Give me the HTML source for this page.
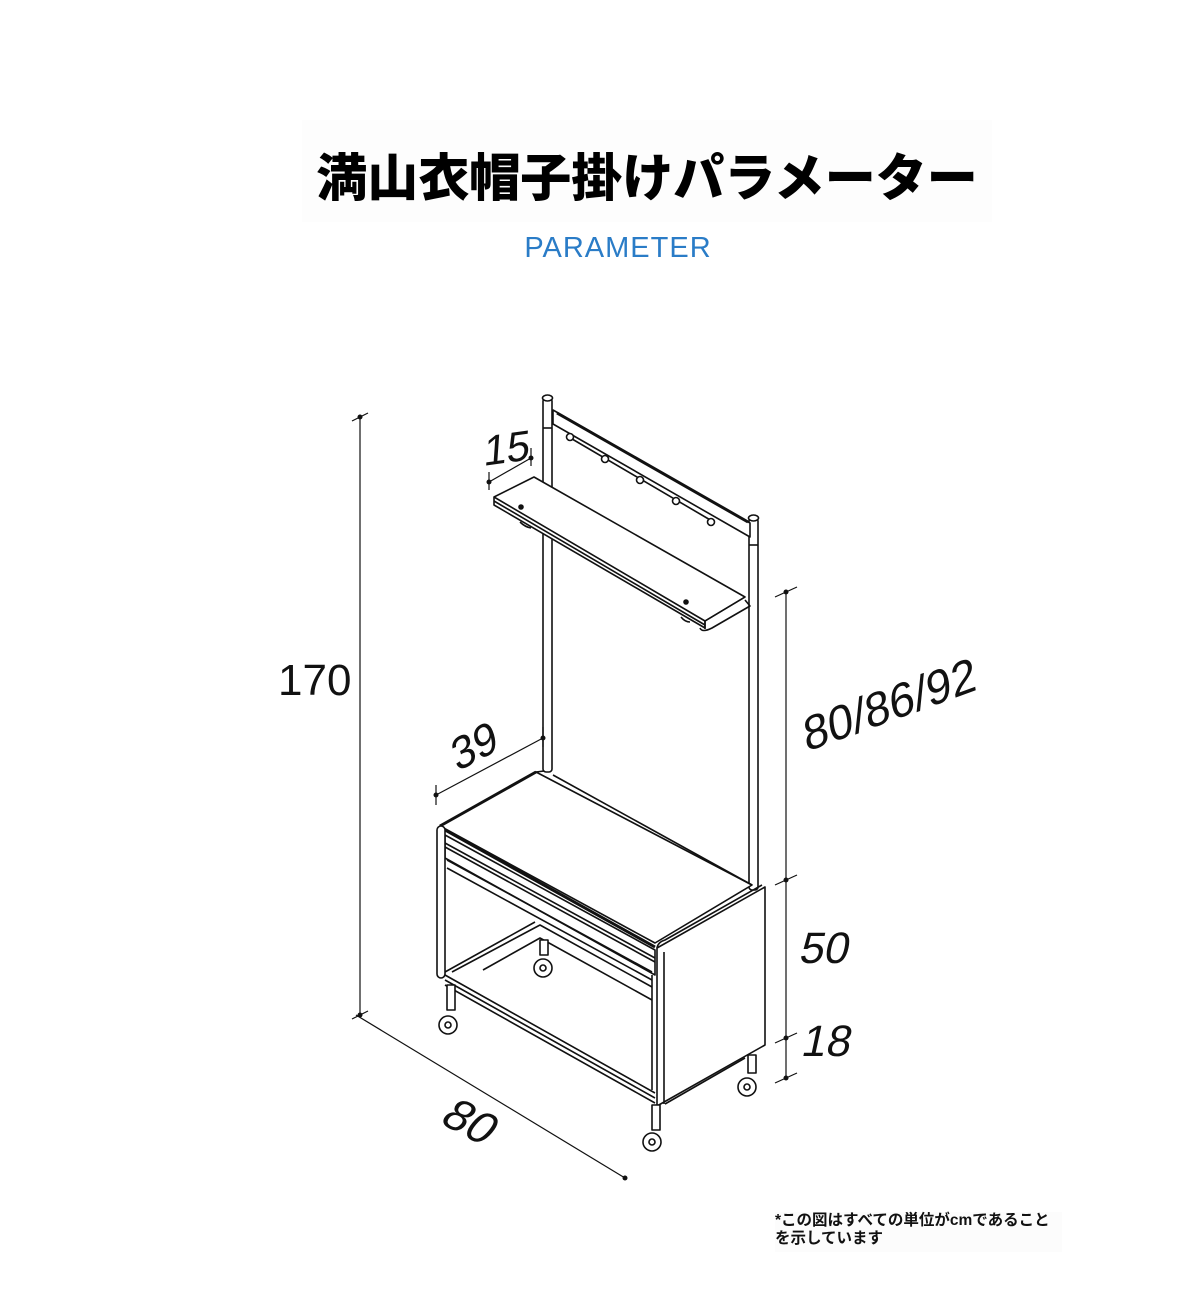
<!DOCTYPE html>
<html><head><meta charset="utf-8"><style>
body{margin:0;background:#fff;}
.wrap{position:relative;width:1200px;height:1289px;overflow:hidden;font-family:"Liberation Sans","Noto Sans CJK JP",sans-serif;}
.title{position:absolute;left:302px;top:120px;width:690px;height:102px;background:#fdfdfd;font-weight:900;font-size:51px;line-height:118px;text-align:center;color:#000;}
.sub{position:absolute;left:0;width:1236px;top:232px;text-align:center;color:#2a7cc7;font-size:29px;letter-spacing:1px;}
.note{position:absolute;left:775px;top:1212px;font-size:15.5px;font-weight:bold;line-height:18px;color:#111;background:#fcfcfc;padding:0 12px 4px 0;}
svg{position:absolute;left:0;top:0;}
</style></head><body><div class="wrap">
<div class="title">満山衣帽子掛けパラメーター</div>
<div class="sub">PARAMETER</div>
<svg width="1200" height="1289" viewBox="0 0 1200 1289" fill="none" stroke="#111" stroke-width="1.6" stroke-linejoin="round">
<!-- poles -->
<rect x="543" y="398" width="9" height="374" fill="#fff" rx="3"/>
<ellipse cx="547.5" cy="398" rx="5" ry="3" fill="#fff"/>
<line x1="543" y1="428" x2="552" y2="428"/>
<rect x="749" y="518" width="9" height="372" fill="#fff" rx="3"/>
<ellipse cx="753.5" cy="518" rx="5" ry="3" fill="#fff"/>
<line x1="749" y1="545" x2="758" y2="545"/>
<!-- hanger bar -->
<polygon points="553,410 750,523 750,537 553,424" fill="#fff"/>
<line x1="557" y1="413" x2="748" y2="522" stroke-width="3"/>
<line x1="567" y1="436" x2="712" y2="521"/>
<g fill="#fff"><circle cx="570" cy="437" r="3.5"/><circle cx="605" cy="459" r="3.5"/><circle cx="640" cy="480" r="3.5"/><circle cx="676" cy="501" r="3.5"/><circle cx="711" cy="522" r="3.5"/></g>
<!-- shelf -->
<polygon points="494,497 534,477 745,597 705,621 705,628 494,505" fill="#fff"/>
<polyline points="494,497 705,621 745,597"/>
<line x1="494" y1="501" x2="705" y2="625"/>
<line x1="705" y1="621" x2="705" y2="629"/>
<path d="M745,600 L750,606 L712,628 Q702,633 700,628"/>
<circle cx="521" cy="507" r="2" fill="#111"/><circle cx="686" cy="602" r="2" fill="#111"/>
<path d="M520,522 Q525,527 531,528" /><path d="M681,617 Q685,622 690,622"/>
<!-- cabinet top -->
<polygon points="440,826 536,772 752,885 655,943" fill="#fff"/>
<polyline points="440,826 536,772 544,771"/>
<line x1="553" y1="775" x2="752" y2="885"/>
<line x1="445" y1="830" x2="655" y2="947" stroke-width="3"/>
<line x1="440" y1="826" x2="536" y2="772" stroke-width="3"/>
<!-- drawer front -->
<polygon points="445,835 655,950 655,975 445,858" fill="#fff"/>
<line x1="445" y1="843" x2="655" y2="958"/>
<line x1="445" y1="847" x2="655" y2="962"/>
<line x1="447" y1="860" x2="652" y2="972"/>
<line x1="447" y1="868" x2="652" y2="980"/>
<!-- left panel -->
<rect x="437" y="826" width="8" height="152" rx="4" fill="#fff"/>
<!-- bottom shelf -->
<polyline points="445,972 535,922"/>
<polyline points="452,972 540,925 652,987"/>
<polyline points="483,970 540,938 652,1000"/>
<line x1="445" y1="975" x2="655" y2="1093"/>
<line x1="445" y1="980" x2="655" y2="1098"/>
<line x1="445" y1="985" x2="655" y2="1103"/>
<line x1="652" y1="975" x2="652" y2="1090"/>
<!-- right panel -->
<polygon points="657,948 765,887 765,1045 657,1106" fill="#fff"/>
<line x1="664" y1="952" x2="664" y2="1104"/>
<path d="M657,948 Q658,942 665,940 L762,885"/>
<path d="M665,1104 L745,1058"/>
<!-- legs and wheels -->
<g fill="#fff">
<rect x="447" y="985" width="8" height="25"/><circle cx="448" cy="1025" r="9"/><circle cx="448" cy="1025" r="3"/>
<rect x="540" y="940" width="8" height="15"/><circle cx="543" cy="968" r="9"/><circle cx="543" cy="968" r="3"/>
<rect x="652" y="1105" width="8" height="25"/><circle cx="652" cy="1142" r="9"/><circle cx="652" cy="1142" r="3"/>
<rect x="748" y="1055" width="8" height="18"/><circle cx="747" cy="1087" r="9"/><circle cx="747" cy="1087" r="3"/>
</g>
<!-- dimension lines -->
<g stroke-width="1.2">
<line x1="360" y1="417" x2="360" y2="1015"/>
<line x1="352" y1="421" x2="368" y2="413"/><line x1="352" y1="1019" x2="368" y2="1011"/>
<line x1="356" y1="1015" x2="625" y2="1178"/>
<line x1="436" y1="795" x2="543" y2="738"/><line x1="436" y1="785" x2="436" y2="805"/><line x1="543" y1="727" x2="543" y2="747"/>
<line x1="489" y1="482" x2="531" y2="458"/><line x1="489" y1="472" x2="489" y2="490"/><line x1="531" y1="448" x2="531" y2="466"/>
<line x1="786" y1="592" x2="786" y2="1078"/>
<line x1="775" y1="597" x2="797" y2="587"/><line x1="775" y1="885" x2="797" y2="875"/><line x1="775" y1="1043" x2="797" y2="1033"/><line x1="775" y1="1083" x2="797" y2="1073"/>
</g>
<g fill="#111" stroke="none">
<circle cx="360" cy="417" r="2.5"/><circle cx="360" cy="1015" r="2.5"/><circle cx="625" cy="1178" r="2.5"/>
<circle cx="436" cy="795" r="2.5"/><circle cx="543" cy="738" r="2.5"/><circle cx="489" cy="482" r="2.5"/><circle cx="531" cy="458" r="2.5"/>
<circle cx="786" cy="592" r="2.5"/><circle cx="786" cy="880" r="2.5"/><circle cx="786" cy="1038" r="2.5"/><circle cx="786" cy="1078" r="2.5"/>
</g>
<g fill="#111" stroke="none" font-family="Liberation Sans, sans-serif" font-size="44">
<text x="278" y="695">170</text>
<text transform="translate(438,1122) rotate(28) skewX(-12)" font-size="46">80</text>
<text transform="translate(457,772) rotate(-28) skewX(-12)" font-size="44">39</text>
<text transform="translate(483,466) rotate(-8) skewX(-12)" font-size="42">15</text>
<text transform="translate(806,752) rotate(-20) skewX(-12)" font-size="47">80/86/92</text>
<text transform="translate(798,963) skewX(-12)" font-size="44">50</text>
<text transform="translate(800,1056) skewX(-12)" font-size="44">18</text>
</g>
</svg>
<div class="note">*この図はすべての単位がcmであること<br>を示しています</div>
</div></body></html>
